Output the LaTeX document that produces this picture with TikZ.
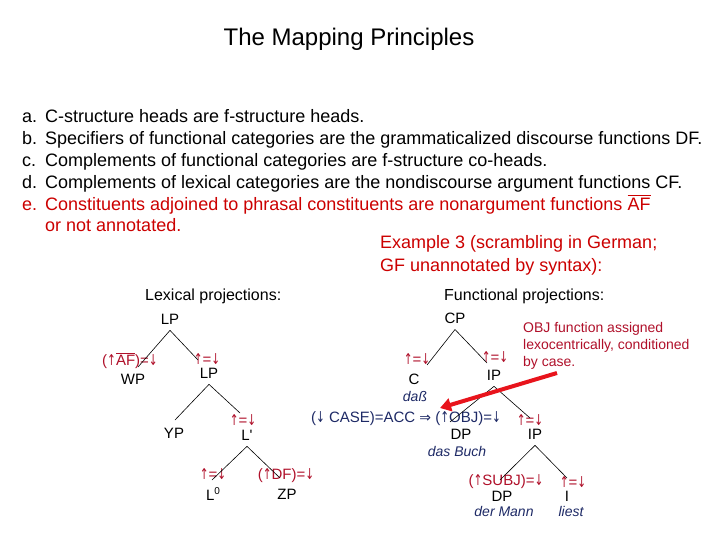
\documentclass[tikz,border=0pt]{standalone}
\usepackage{fontspec}
\setmainfont{Liberation Sans}
\newfontfamily\dv{DejaVu Sans}
\usetikzlibrary{arrows.meta}
\definecolor{ered}{HTML}{CC0000}
\definecolor{annc}{HTML}{B0102A}
\definecolor{navy}{HTML}{1E2A66}
\definecolor{arrc}{HTML}{E8141C}
\newcommand\ovl[2][1.5pt]{\leavevmode\vbox{\hrule height 0.7pt\kern#1\hbox{#2}}}
\newcommand\ua{\scalebox{0.7}[1]{\dv ↑}}
\newcommand\da{\scalebox{0.7}[1]{\dv ↓}}
\begin{document}
\begin{tikzpicture}[x=1pt,y=-1pt,
  body/.style={anchor=base west, inner sep=0pt, font=\fontsize{18}{22}\selectfont},
  cat/.style={inner xsep=0.5pt, inner ysep=6pt, font=\fontsize{15}{17}\selectfont},
  annot/.style={inner sep=0.5pt, text=annc, font=\fontsize{15}{17}\selectfont},
  word/.style={inner sep=0.5pt, text=navy, font=\fontsize{14}{16}\selectfont\itshape},
  branch/.style={draw=black, line width=0.6pt}]
\useasboundingbox (0,0) rectangle (720,540);
\fill[white] (0,0) rectangle (720,540);

% title
\node[anchor=base, inner sep=0pt, font=\fontsize{24}{28}\selectfont] (title) at (349,46) {The Mapping Principles};

% principles
\foreach \l/\t/\yy in {a./C-structure heads are f-structure heads./123,
  b./Specifiers of functional categories are the grammaticalized discourse functions DF./145,
  c./Complements of functional categories are f-structure co-heads./167,
  d./Complements of lexical categories are the nondiscourse argument functions CF./189}{
  \node[body] at (22,\yy) {\l};
  \node[body] at (45,\yy) {\t};
}
\node[body, text=ered] (le) at (22,211) {e.};
\node[body, text=ered] (te) at (45,211) {Constituents adjoined to phrasal constituents are nonargument functions \ovl[3pt]{AF}};
\node[body, text=ered] (te2) at (45,232) {or not annotated.};
\node[body, text=ered] (ex1) at (380,248) {Example 3 (scrambling in German;};
\node[body, text=ered] (ex2) at (380,271) {GF unannotated by syntax):};

% headings
\node[anchor=west, inner sep=0pt, font=\fontsize{16}{18}\selectfont] (hl) at (145,296) {Lexical projections:};
\node[anchor=west, inner sep=0pt, font=\fontsize{16}{18}\selectfont] (hf) at (444,296) {Functional projections:};

% lexical tree
\node[cat] (LP1) at (170,319) {LP};
\node[annot] (aWP) at (130,361) {(\ua\ovl{AF})=\da};
\node[cat] (WP) at (133,379) {WP};
\node[annot] (aLP2) at (207,359) {\ua=\da};
\node[cat] (LP2) at (209,373) {LP};
\node[cat] (YP) at (174,433) {YP};
\node[annot] (aL1) at (243,420) {\ua=\da};
\node[cat] (L1) at (247,435) {L\textquotesingle};
\node[annot] (aL0) at (213,474) {\ua=\da};
\node[cat] (L0) at (213,494) {L\raisebox{0.45em}{\fontsize{10}{10}\selectfont 0}};
\node[annot] (aZP) at (286,476) {(\ua DF)=\da};
\node[cat] (ZP) at (287,494) {ZP};

\coordinate (tWP) at (138,367);
\coordinate (tLP2) at (198,360);
\coordinate (tYP) at (175,420);
\coordinate (tL1) at (240,413);
\coordinate (tL0) at (212,480);
\coordinate (tZP) at (280,478);
\draw[branch] (LP1.south) -- (tWP);
\draw[branch] (LP1.south) -- (tLP2);
\draw[branch] (LP2.south) -- (tYP);
\draw[branch] (LP2.south) -- (tL1);
\draw[branch] (L1.south) -- (tL0);
\draw[branch] (L1.south) -- (tZP);

% functional tree
\node[cat] (CP) at (455,318) {CP};
\node[annot] (aC) at (417,359) {\ua=\da};
\node[cat] (C) at (414,379) {C};
\node[word] (dass) at (415,397) {daß};
\node[annot] (aIP) at (495,357) {\ua=\da};
\node[cat] (IP) at (494,375) {IP};
\node[inner sep=0.5pt, text=navy, font=\fontsize{15}{17}\selectfont] (form) at (406,419) {(\da{} CASE)=ACC {\dv\fontsize{14}{16}\selectfont ⇒} (\ua OBJ)=\da};
\node[cat] (DP) at (461,434) {DP};
\node[word] (buch) at (457,451) {das Buch};
\node[annot] (aIP2) at (530,420) {\ua=\da};
\node[cat] (IP2) at (535,434) {IP};
\node[annot] (aDP2) at (506,482) {(\ua SUBJ)=\da};
\node[cat] (DP2) at (502,496) {DP};
\node[word] (mann) at (504,511) {der Mann};
\node[annot] (aI) at (573,482) {\ua=\da};
\node[cat] (I) at (567,496) {I};
\node[word] (liest) at (571,511) {liest};

\coordinate (tC) at (427,365);
\coordinate (tIP) at (487,363);
\coordinate (tDP) at (450,422);
\coordinate (tIP2) at (530,418);
\coordinate (tDP2) at (500,480);
\coordinate (tI) at (567,478);
\draw[branch] (CP.south) -- (tC);
\draw[branch] (CP.south) -- (tIP);
\draw[branch] (IP.south) -- (tDP);
\draw[branch] (IP.south) -- (tIP2);
\draw[branch] (IP2.south) -- (tDP2);
\draw[branch] (IP2.south) -- (tI);

% note and arrow
\node[anchor=north west, align=left, inner sep=0pt, text=annc, font=\fontsize{14}{17}\selectfont] (note) at (523,322) {OBJ function assigned\\lexocentrically, conditioned\\by case.};
\coordinate (arS) at (557,373);
\coordinate (arE) at (440,408);
\draw[arrc, line width=4pt, -{Triangle[length=11pt,width=13pt]}] (arS) -- (arE);
\end{tikzpicture}
\end{document}
